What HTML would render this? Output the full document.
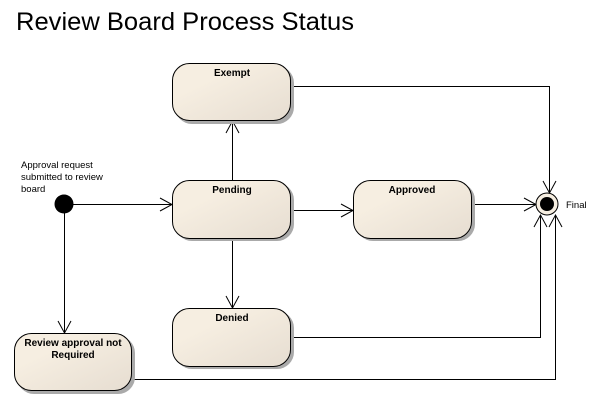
<!DOCTYPE html>
<html><head><style>body{margin:0;background:#fff;width:594px;height:403px;overflow:hidden}</style></head>
<body>
<svg width="594" height="403" xmlns="http://www.w3.org/2000/svg" font-family="Liberation Sans, sans-serif">
<defs>
<linearGradient id="g" x1="0" y1="0" x2="1" y2="1"><stop offset="0.3" stop-color="#f6eee1"/><stop offset="1" stop-color="#e6ddd1"/></linearGradient>
</defs>
<text x="16" y="30" font-size="25" fill="#000" textLength="338" lengthAdjust="spacingAndGlyphs">Review Board Process Status</text>
<g stroke="#000" fill="none" stroke-width="1">
<path d="M291.5 86.5H549.5V193"/>
<path d="M472 204.5H536"/>
<path d="M291 337.5H540.5V215"/>
<path d="M132 379.5H555.5V215"/>
<path d="M232.5 180V121"/>
<path d="M232.5 239V308"/>
<path d="M291 210.5H353"/>
<path d="M73 204.5H172"/>
<path d="M64.5 213V333"/>
<path d="M543 181L549.5 193L556 181"/>
<path d="M524 198L536 204.5L524 211"/>
<path d="M534 227L540.5 215L547 227"/>
<path d="M549 227L555.5 215L562 227"/>
<path d="M226 133L232.5 121L239 133"/>
<path d="M226 296L232.5 308L239 296"/>
<path d="M341 204L353 210.5L341 217"/>
<path d="M160 198L172 204.5L160 211"/>
<path d="M58 321L64.5 333L71 321"/>
</g>
<g>
<rect x="175" y="66" width="119" height="58" rx="17" fill="#aaa"/>
<rect x="172.5" y="63.5" width="118" height="57" rx="17" fill="url(#g)" stroke="#000"/>
<rect x="175" y="183" width="119" height="58" rx="17" fill="#aaa"/>
<rect x="172.5" y="180.5" width="118" height="58" rx="17" fill="url(#g)" stroke="#000"/>
<rect x="356" y="183" width="119" height="58" rx="17" fill="#aaa"/>
<rect x="353.5" y="180.5" width="118" height="58" rx="17" fill="url(#g)" stroke="#000"/>
<rect x="175" y="311" width="119" height="58" rx="17" fill="#aaa"/>
<rect x="172.5" y="308.5" width="118" height="58" rx="17" fill="url(#g)" stroke="#000"/>
<rect x="17" y="336" width="118" height="58" rx="17" fill="#aaa"/>
<rect x="14.5" y="333.5" width="117" height="57" rx="17" fill="url(#g)" stroke="#000"/>
</g>
<g font-size="10" font-weight="bold" text-anchor="middle">
<text x="232" y="76">Exempt</text>
<text x="232" y="193">Pending</text>
<text x="412" y="193">Approved</text>
<text x="232" y="321">Denied</text>
<text x="73" y="346">Review approval not</text>
<text x="73" y="358">Required</text>
</g>
<g font-size="9.5">
<text x="21" y="168">Approval request</text>
<text x="21" y="180">submitted to review</text>
<text x="21" y="192">board</text>
<text x="566" y="208">Final</text>
</g>
<circle cx="64" cy="204" r="9.5" fill="#000"/>
<circle cx="547" cy="204" r="11" fill="#f6eee1" stroke="#000"/>
<circle cx="547" cy="204" r="7" fill="#000"/>
</svg>
</body></html>
